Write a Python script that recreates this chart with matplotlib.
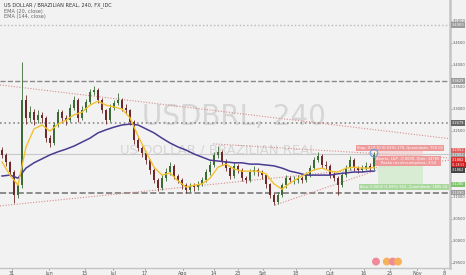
import matplotlib
matplotlib.use("Agg")
import matplotlib.pyplot as plt
from matplotlib.patches import Rectangle

# 4h candles, resampled (one candle per ~8 bars), index = candle number
closes = [3.195, 3.179, 3.156, 3.104, 3.126, 3.320, 3.279, 3.292, 3.274, 3.286,
          3.279, 3.233, 3.222, 3.263, 3.292, 3.279, 3.274, 3.302, 3.320, 3.279,
          3.297, 3.315, 3.338, 3.342, 3.320, 3.297, 3.274, 3.302, 3.313, 3.320,
          3.302, 3.297, 3.270, 3.229, 3.211, 3.199, 3.183, 3.161, 3.138, 3.120,
          3.142, 3.156, 3.170, 3.147, 3.138, 3.126, 3.115, 3.124, 3.122, 3.129,
          3.138, 3.156, 3.172, 3.195, 3.202, 3.179, 3.165, 3.147, 3.170, 3.161,
          3.142, 3.138, 3.156, 3.161, 3.156, 3.149, 3.129, 3.104, 3.088, 3.104,
          3.126, 3.142, 3.138, 3.138, 3.142, 3.138, 3.149, 3.165, 3.183, 3.192,
          3.172, 3.170, 3.149, 3.142, 3.126, 3.149, 3.165, 3.183, 3.165, 3.161,
          3.165, 3.170, 3.165, 3.195]
first_open = 3.205
highs = [3.212, 3.200, 3.182, 3.160, 3.135, 3.406, 3.330, 3.305, 3.300, 3.296,
         3.292, 3.283, 3.240, 3.270, 3.300, 3.298, 3.285, 3.310, 3.328, 3.324,
         3.305, 3.322, 3.345, 3.352, 3.346, 3.325, 3.300, 3.310, 3.320, 3.335,
         3.325, 3.310, 3.300, 3.274, 3.235, 3.216, 3.204, 3.186, 3.165, 3.142,
         3.150, 3.165, 3.178, 3.174, 3.152, 3.142, 3.130, 3.132, 3.130, 3.136,
         3.145, 3.162, 3.180, 3.202, 3.215, 3.206, 3.185, 3.170, 3.178, 3.175,
         3.165, 3.148, 3.162, 3.170, 3.166, 3.160, 3.152, 3.132, 3.108, 3.110,
         3.132, 3.150, 3.148, 3.146, 3.150, 3.148, 3.156, 3.172, 3.190, 3.202,
         3.196, 3.180, 3.174, 3.155, 3.146, 3.156, 3.172, 3.192, 3.188, 3.170,
         3.172, 3.178, 3.176, 3.202]
lows = [3.188, 3.170, 3.148, 3.085, 3.098, 3.120, 3.265, 3.270, 3.262, 3.268,
        3.268, 3.225, 3.212, 3.218, 3.258, 3.270, 3.262, 3.270, 3.296, 3.270,
        3.274, 3.292, 3.310, 3.330, 3.314, 3.290, 3.265, 3.270, 3.298, 3.308,
        3.295, 3.288, 3.262, 3.220, 3.204, 3.190, 3.175, 3.152, 3.130, 3.112,
        3.115, 3.136, 3.150, 3.140, 3.130, 3.118, 3.108, 3.110, 3.114, 3.116,
        3.124, 3.134, 3.150, 3.168, 3.188, 3.172, 3.158, 3.140, 3.142, 3.154,
        3.135, 3.130, 3.134, 3.150, 3.148, 3.140, 3.120, 3.096, 3.081, 3.084,
        3.100, 3.120, 3.130, 3.128, 3.132, 3.130, 3.134, 3.145, 3.160, 3.178,
        3.166, 3.162, 3.142, 3.135, 3.104, 3.122, 3.144, 3.160, 3.158, 3.154,
        3.156, 3.160, 3.158, 3.160]

ema_x = list(range(0, 93, 2)) + [93]
ema20 = [3.179, 3.149, 3.126, 3.213, 3.254, 3.263, 3.249, 3.265, 3.274, 3.286,
         3.292, 3.308, 3.317, 3.308, 3.304, 3.299, 3.279, 3.238, 3.202, 3.167,
         3.149, 3.154, 3.136, 3.122, 3.126, 3.129, 3.142, 3.167, 3.174, 3.163,
         3.158, 3.158, 3.158, 3.152, 3.129, 3.117, 3.131, 3.142, 3.152, 3.161,
         3.165, 3.158, 3.156, 3.165, 3.167, 3.165, 3.165, 3.167]
ema144 = [3.147, 3.149, 3.142, 3.165, 3.177, 3.186, 3.195, 3.202, 3.208, 3.215,
          3.224, 3.233, 3.245, 3.252, 3.258, 3.263, 3.265, 3.263, 3.254, 3.245,
          3.233, 3.222, 3.213, 3.206, 3.197, 3.190, 3.183, 3.181, 3.179, 3.177,
          3.177, 3.174, 3.174, 3.172, 3.170, 3.165, 3.158, 3.154, 3.149, 3.149,
          3.149, 3.149, 3.152, 3.154, 3.156, 3.156, 3.158, 3.158]

# drawings
trend_lines = [
    ([-0.5, 114.5], [3.354, 3.229]),
    ([-0.5, 112.0], [3.079, 3.183]),
    ([68.25, 94.0], [3.081, 3.161]),
    ([52.75, 112.0], [3.220, 3.188]),
]
h_levels = [3.4900, 3.3629, 3.2679, 3.1970, 3.1090]
h_styles = [(":", "#b8b8b8", 1.0), ("--", "#8a8a8a", 1.0), (":", "#8a8a8a", 1.2),
            ("-", "#c8c8c8", 0.8), ("--", "#7a7a7a", 1.2)]
entry, stop, target = 3.1882, 3.2052, 3.1280
pos_x = [94.0, 105.3]

tick_pos = [2.4, 11.75, 20.75, 27.7, 35.75, 45.25, 52.9, 59.0, 65.25, 73.4, 82.0, 90.5, 97.0, 103.75, 110.5]
tick_lbl = ["31", "Jun", "15", "Jul", "17", "Ago", "14", "23", "Set", "18", "Out", "16", "25", "Nov", "8"]
y_ticks = [3.50, 3.45, 3.40, 3.35, 3.30, 3.25, 3.10, 3.05, 3.00, 2.95]

side_vals = [3.4900, 3.3629, 3.2679, 3.2052, 3.1937, 3.1830, 3.1720, 3.1610, 3.1280, 3.1090]
side_text = ["3.4900", "3.3629", "3.2679", "3.2052", "3.2002", "3.1882", "01:28:53", "3.1862", "3.1280", "3.1090"]
side_cols = ["#9a9a9a", "#9a9a9a", "#666666", "#e06060", "#9a9a9a", "#e03030", "#d02020", "#444444", "#7cc36a", "#9a9a9a"]

bg = "#f2f2f2"
fig = plt.figure(figsize=(4.66, 2.75), dpi=100, facecolor=bg)
ax = fig.add_axes([0, 7 / 275, 450 / 466, 268 / 275], facecolor=bg)
ax.set_xlim(-0.5, 112)
ax.set_ylim(2.9379, 3.547)

# watermark
ax.text(58, 3.282, "USDBRL, 240", fontsize=20, color="#d6d6d6", ha="center", va="center", zorder=0)
ax.text(54, 3.205, "US DOLLAR / BRAZILIAN REAL", fontsize=9.5, color="#d6d6d6", ha="center", va="center", zorder=0)

for lv, (ls, c, lw) in zip(h_levels, h_styles):
    ax.axhline(lv, ls=ls, color=c, lw=lw, zorder=1)
for xs, ys in trend_lines:
    ax.plot(xs, ys, ls=(0, (1, 1.5)), color="#d98c8c", lw=0.8, zorder=1)

# position tool
ax.add_patch(Rectangle((pos_x[0], entry), pos_x[1] - pos_x[0], stop - entry, color="#f4c7c7", alpha=0.6, lw=0, zorder=1))
ax.add_patch(Rectangle((pos_x[0], target), pos_x[1] - pos_x[0], entry - target, color="#d6ecd0", alpha=0.9, lw=0, zorder=1))

# candles
opens = [first_open] + closes[:-1]
for i, (o, c, h, l) in enumerate(zip(opens, closes, highs, lows)):
    col = "#3d6b35" if c >= o else "#6e2a2a"
    ax.vlines(i, l, h, color=col, lw=0.6, zorder=3)
    ax.add_patch(Rectangle((i - 0.3, min(o, c)), 0.6, max(abs(c - o), 0.0008), color=col, lw=0, zorder=3))

ax.plot(ema_x, ema144, color="#4a3a92", lw=1.1, zorder=4)
ax.plot(ema_x, ema20, color="#f2c12e", lw=1.0, zorder=4)

# position labels
ax.text(99.6, 3.2115, "Stop: 0.0170 (0.53%) 170, Quantidade: 750.02", fontsize=2.6, color="white",
        ha="center", va="center", zorder=6, bbox=dict(boxstyle="square,pad=0.3", fc="#ef9a9a", ec="none"))
ax.text(101.5, 3.181, "Aberto, L&P: -0.0000, Qtde: 14765\nRazão risco/recompensa: 3.54", fontsize=2.6, color="white",
        ha="center", va="center", zorder=6, linespacing=1.1, bbox=dict(boxstyle="square,pad=0.3", fc="#ef9a9a", ec="none"))
ax.text(100.5, 3.1225, "Alvo: 0.0602 (1.89%) 602, Quantidade: 1885.24", fontsize=2.6, color="white",
        ha="center", va="center", zorder=6, bbox=dict(boxstyle="square,pad=0.3", fc="#a9d89c", ec="none"))
ax.scatter([93], [3.199], s=30, facecolors="none", edgecolors="#6a9be0", lw=0.8, zorder=6)

# event markers
ax.scatter([93.5, 96.2, 97.7, 99.0], [2.9525] * 4, s=22, c=["#f08a9a", "#f5b25a", "#f08a9a", "#f5b25a"], zorder=5)

# axes
ax.yaxis.tick_right()
ax.set_yticks(y_ticks)
ax.set_yticklabels([f"{v:.4f}" for v in y_ticks])
ax.set_xticks(tick_pos)
ax.set_xticklabels(tick_lbl)
ax.tick_params(axis="x", labelsize=3.5, colors="#555555", length=1.5, width=0.4, pad=1)
ax.tick_params(axis="y", labelsize=2.6, colors="#555555", length=1.2, width=0.4, pad=0.8)
for s in ["top", "left"]:
    ax.spines[s].set_visible(False)
ax.spines["right"].set_color("#c4c4c4")
ax.spines["right"].set_linewidth(1.8)
ax.spines["bottom"].set_color("#c4c4c4")
ax.spines["bottom"].set_linewidth(1.0)

# price labels on the right axis
for v, t, c in zip(side_vals, side_text, side_cols):
    fs = 2.1 if len(t) > 6 else 2.6
    ax.text(1.004, v, t, transform=ax.get_yaxis_transform(), fontsize=fs, color="white", va="center", ha="left",
            zorder=7, clip_on=False, bbox=dict(boxstyle="square,pad=0.2", fc=c, ec="none"))

fig.text(4 / 466, 1 - 5 / 275, "US DOLLAR / BRAZILIAN REAL, 240, FX_IDC", fontsize=3.6, color="#333333", va="center")
fig.text(4 / 466, 1 - 11 / 275, "EMA (20, close)", fontsize=3.6, color="#666666", va="center")
fig.text(4 / 466, 1 - 16.5 / 275, "EMA (144, close)", fontsize=3.6, color="#666666", va="center")

fig.savefig("out.png", dpi=100, facecolor=bg)
